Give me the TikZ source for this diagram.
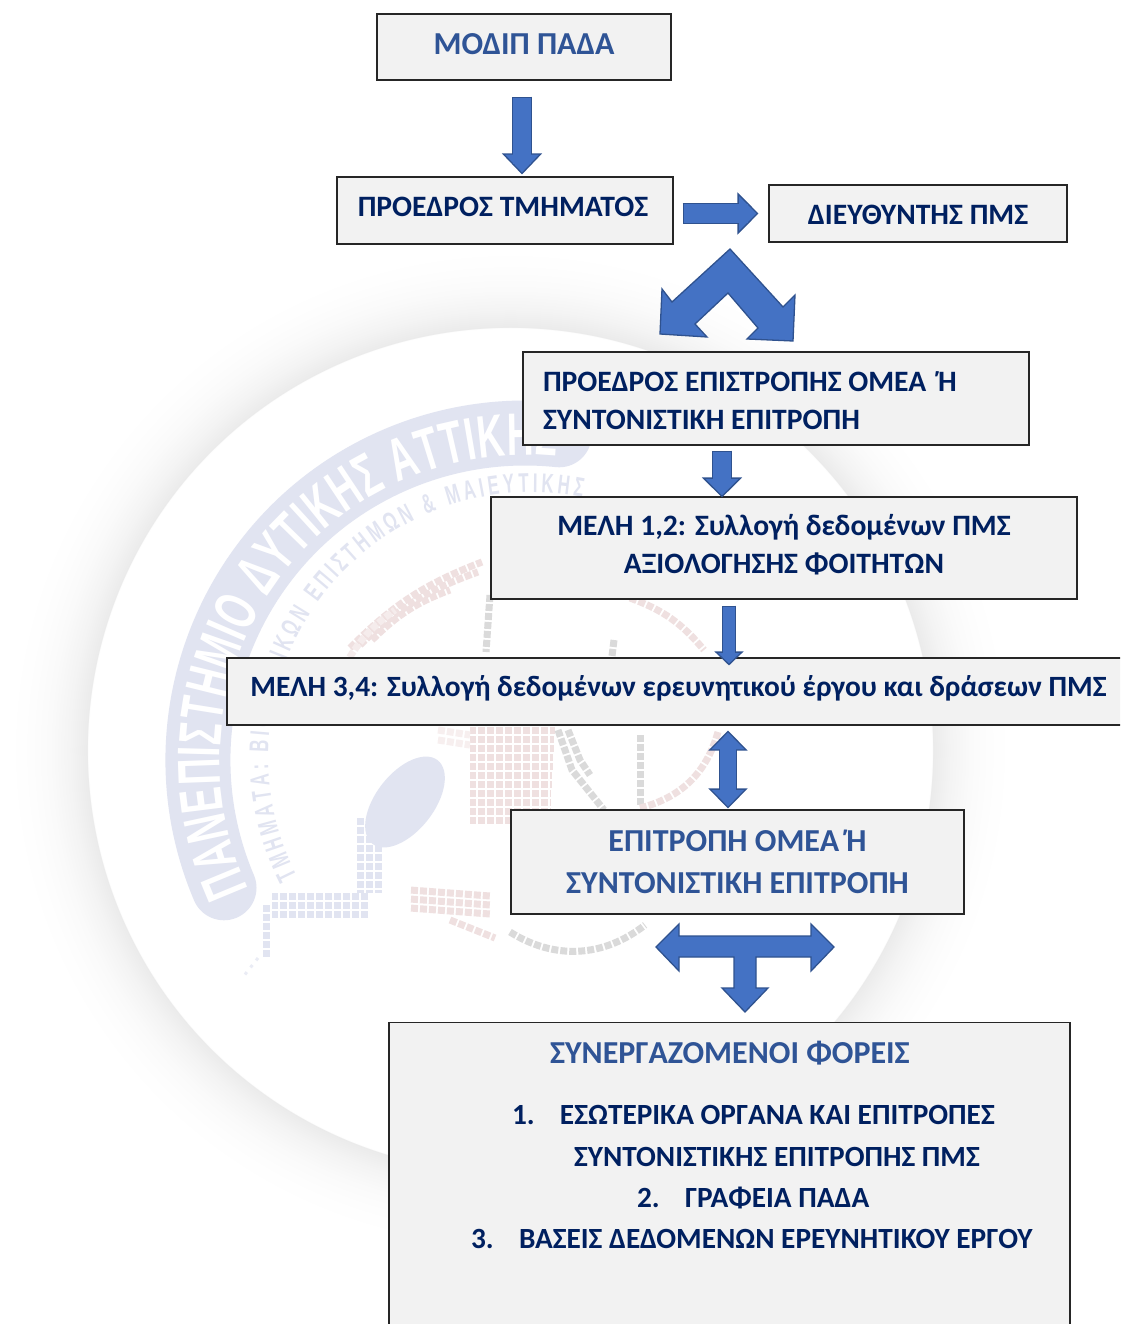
\documentclass[tikz,border=0pt]{standalone}
\usepackage{fontspec}
\usetikzlibrary{arrows.meta,decorations.text,shapes.geometric}
\setmainfont{Carlito}
\newfontfamily\logofont[FakeStretch=0.62]{Liberation Sans}
\definecolor{boxgray}{HTML}{F2F2F2}
\definecolor{boxline}{HTML}{262626}
\definecolor{navytext}{HTML}{002060}
\definecolor{bluetext}{HTML}{2F5496}
\definecolor{arrowblue}{HTML}{4472C4}
\definecolor{arrowedge}{HTML}{2F528F}
\definecolor{logoblue}{HTML}{E1E4F1}
\definecolor{logopink}{HTML}{EFE0E0}
\definecolor{logogray}{HTML}{DADADA}
\pgfdeclareradialshading{discglow}{\pgfpoint{0bp}{0bp}}{
  color(0bp)=(white); color(21.1bp)=(white); color(21.11bp)=(black!8);
  color(22bp)=(black!4.5); color(23bp)=(black!2); color(24bp)=(black!0.7); color(25bp)=(white); color(50bp)=(white)}
\newcommand{\liftup}[1]{\rule[-#1]{0pt}{0pt}}
\newcommand{\pushdown}[1]{\rule{0pt}{#1}}
\tikzset{
  stepbox/.style={rectangle,draw=boxline,fill=boxgray,line width=1.1pt,inner sep=0pt,align=center,
    font=\bfseries\fontsize{29.6}{38}\selectfont,text=navytext},
  bluebox/.style={stepbox,font=\bfseries\fontsize{32}{42}\selectfont,text=bluetext},
  flow/.style n args={5}{draw=arrowedge,line width=#3pt,shorten <=#1pt,shorten >=#2pt,
    -{Triangle[length=#5pt,width=#4pt,fill=arrowblue,color=arrowedge,line width=1.3pt]},
    postaction={draw=arrowblue,-,line width=#3pt-2.6pt,shorten <=#1pt+1.3pt,shorten >=#2pt+#5pt/2}},
  flowboth/.style n args={5}{draw=arrowedge,line width=#3pt,shorten <=#1pt,shorten >=#2pt,
    {Triangle[length=#5pt,width=#4pt,fill=arrowblue,color=arrowedge,line width=1.3pt]}-{Triangle[length=#5pt,width=#4pt,fill=arrowblue,color=arrowedge,line width=1.3pt]},
    postaction={draw=arrowblue,-,line width=#3pt-2.6pt,shorten <=#1pt+#5pt/2,shorten >=#2pt+#5pt/2}},
  blockshape/.style={fill=arrowblue,draw=arrowedge,line width=1.3pt,line join=miter},
  mosaic/.style={line width=7pt,dash pattern=on 7pt off 2pt}
}
\begin{document}
\begin{tikzpicture}[x=1pt,y=-1pt]

    \path[use as bounding box,clip] (0,0) rectangle (1120,1324);
    \shade[shading=discglow] (510,750) circle (500pt);

    \begin{scope}[shift={(525,760)},x=1pt,y=1pt]
        \draw[logoblue,line width=65pt,line cap=round] (203:327) arc (203:84:327);
        \path[decorate,decoration={text along path,text color=white,text align=fit to path,
            text={|\logofont\bfseries\fontsize{60}{60}\selectfont|ΠΑΝΕΠΙΣΤΗΜΙΟ ΔΥΤΙΚΗΣ ΑΤΤΙΚΗΣ}}]
            (205:305) arc (205:84:305);
        \path[decorate,decoration={text along path,text color=logoblue,text align=fit to path,
            text={|\logofont\bfseries\fontsize{27}{27}\selectfont|ΤΜΗΜΑΤΑ: ΒΙΟΙΑΤΡΙΚΩΝ ΕΠΙΣΤΗΜΩΝ {\&} ΜΑΙΕΥΤΙΚΗΣ}}]
            (207:256) arc (207:79:264);
    \end{scope}

    \node[ellipse,fill=logoblue,minimum width=106pt,minimum height=58pt,rotate=52] (head) at (405,802) {};
    \foreach \px in {360,369,378}
        \draw[logoblue,mosaic] (\px,818) -- (\px,893);
    \foreach \py in {896,905,914}
        \draw[logoblue,mosaic] (368,\py) -- (272,\py);
    \draw[logoblue,mosaic] (266,905) -- (266,958);
    \draw[logoblue!70,line width=3pt,dash pattern=on 3pt off 6pt] (258,958) -- (243,977);

    \draw[logopink,mosaic] (350,648) to[bend left=12] (482,562);
    \draw[logopink,mosaic] (360,645) to[bend left=12] (478,572);
    \draw[logopink,mosaic] (372,640) to[bend left=12] (450,590);
    \draw[logopink!60,mosaic] (345,665) to[bend left=12] (395,610);
    \draw[logogray,mosaic] (490,595) -- (486,652);
    \draw[logogray,mosaic] (614,640) -- (612,656);
    \draw[logopink,mosaic] (630,598) to[bend left=15] (704,650);
    \foreach \py in {730,739,...,820}
        \draw[logopink,mosaic,dash phase=\py] (470,\py) -- (555-\py/20+36,\py);
    \draw[logopink!50,mosaic] (438,730) -- (470,735);
    \draw[logopink!50,mosaic] (438,740) -- (470,745);
    \draw[logogray,mosaic] (558,730) -- (572,770) -- (604,810);
    \draw[logogray,mosaic] (568,730) -- (580,760) -- (590,775);
    \draw[logogray,mosaic] (640,735) -- (640,805);
    \draw[logopink,mosaic] (718,732) to[bend left=30] (640,808);
    \foreach \py in {890,899,908}
        \draw[logopink,mosaic,dash phase=\py] (410,\py) -- (490,\py+6);
    \draw[logopink,mosaic] (450,920) -- (495,938);
    \draw[logogray,mosaic] (510,932) to[bend right=35] (645,925);

    \node[bluebox,minimum width=294pt,minimum height=66pt] (modip) at (524,47) {\raisebox{6pt}{ΜΟΔΙΠ ΠΑΔΑ}};
    \node[stepbox,minimum width=336pt,minimum height=67pt] (proedros) [below of=modip,node distance=163.5pt,xshift=-19pt] {\raisebox{7pt}{ΠΡΟΕΔΡΟΣ ΤΜΗΜΑΤΟΣ}\hspace*{4pt}};
    \node[stepbox,minimum width=298pt,minimum height=57pt] (director) [right of=proedros,node distance=413pt,yshift=-3pt] {\pushdown{23pt}ΔΙΕΥΘΥΝΤΗΣ ΠΜΣ};
    \node[stepbox,minimum width=506pt,minimum height=93pt,align=flush left,text width=466pt] (chair) [below of=director,node distance=185pt,xshift=-142pt] {\pushdown{24pt}ΠΡΟΕΔΡΟΣ ΕΠΙΣΤΡΟΠΗΣ ΟΜΕΑ\hspace{5pt} Ή\\ΣΥΝΤΟΝΙΣΤΙΚΗ ΕΠΙΤΡΟΠΗ};
    \node[stepbox,minimum width=586pt,minimum height=102pt] (members12) [below of=chair,node distance=149.5pt,xshift=8pt] {ΜΕΛΗ 1,2: Συλλογή δεδομένων ΠΜΣ\\ΑΞΙΟΛΟΓΗΣΗΣ ΦΟΙΤΗΤΩΝ\liftup{8pt}};
    \node[stepbox,minimum width=903pt,minimum height=67pt,font=\bfseries\fontsize{29.4}{38}\selectfont] (members34) [below of=members12,node distance=143.5pt,xshift=-105.5pt] {\raisebox{12pt}{ΜΕΛΗ 3,4: Συλλογή δεδομένων ερευνητικού έργου και δράσεων ΠΜΣ}};
    \node[bluebox,minimum width=453pt,minimum height=104pt] (committee) [below of=members34,node distance=170.5pt,xshift=59pt] {ΕΠΙΤΡΟΠΗ ΟΜΕΑ Ή\\ΣΥΝΤΟΝΙΣΤΙΚΗ ΕΠΙΤΡΟΠΗ};
    \node[stepbox,font=\bfseries\fontsize{29.3}{38}\selectfont,text width=681pt,align=flush left,inner ysep=19pt] (partners) [below of=committee,node distance=160pt,xshift=-8pt,anchor=north] {%
        \hspace*{161pt}\textcolor{bluetext}{\fontsize{32}{38}\selectfont ΣΥΝΕΡΓΑΖΟΜΕΝΟΙ ΦΟΡΕΙΣ}\\[23pt]
        \hspace*{123pt}\makebox[48pt][l]{1.}ΕΣΩΤΕΡΙΚΑ ΟΡΓΑΝΑ ΚΑΙ ΕΠΙΤΡΟΠΕΣ\\[4pt]
        \hspace*{185pt}ΣΥΝΤΟΝΙΣΤΙΚΗΣ ΕΠΙΤΡΟΠΗΣ ΠΜΣ\\[3pt]
        \hspace*{248pt}\makebox[48pt][l]{2.}ΓΡΑΦΕΙΑ ΠΑΔΑ\\[3pt]
        \hspace*{82pt}\makebox[48pt][l]{3.}ΒΑΣΕΙΣ ΔΕΔΟΜΕΝΩΝ ΕΡΕΥΝΗΤΙΚΟΥ ΕΡΓΟΥ\\[110pt]\mbox{}};

    \draw[flow={16}{2}{20}{40}{21}] ([xshift=-2pt]modip.south) -- ([xshift=17pt]proedros.north);
    \draw[flow={9}{10}{21}{42}{21}] ([yshift=-3pt]proedros.east) -- (director.west);
    \draw[flow={5}{-1}{20}{40}{20}] ([xshift=-54pt]chair.south) -- ([xshift=-62pt]members12.north);
    \draw[flow={6}{-8}{14}{29}{14}] ([xshift=-55pt]members12.south) -- ([xshift=50.5pt]members34.north);
    \draw[flowboth={5}{1}{18}{39}{20}] ([xshift=49.5pt]members34.south) -- ([xshift=-9.5pt]committee.north);

    \draw[blockshape] (730,249) -- (783,307) -- (795,295) -- (793,341) -- (747,339) -- (758,328) -- (728,293)
        -- (695,324) -- (707,337) -- (660,334) -- (662,289) -- (672,302) -- cycle;
    \draw[blockshape] (656,947) -- (679,924) -- (679,936) -- (811,936) -- (811,924) -- (834,947) -- (811,971)
        -- (811,957) -- (756,957) -- (756,988) -- (768,988) -- (745,1012) -- (722,988) -- (734,988) -- (734,957)
        -- (679,957) -- (679,971) -- cycle;

\end{tikzpicture}
\end{document}
